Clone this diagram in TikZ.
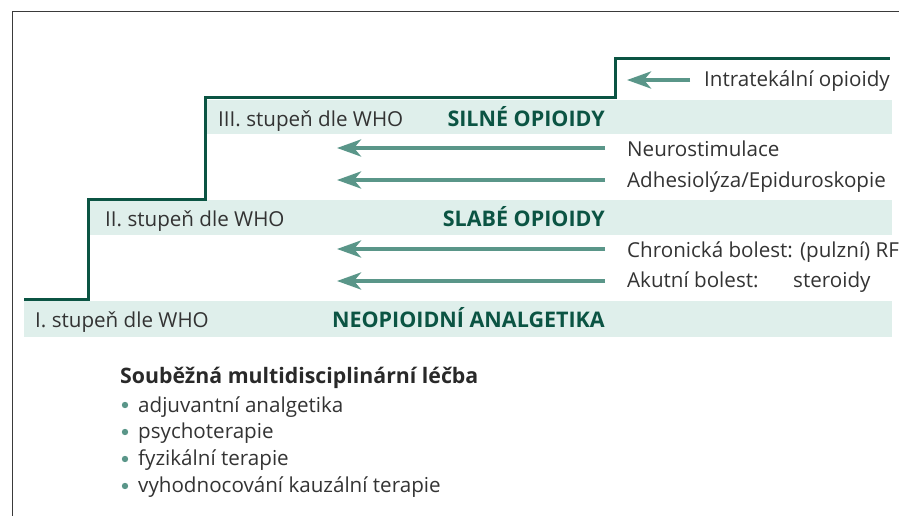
\documentclass[tikz,border=0pt]{standalone}
\usepackage{fontspec}
\setmainfont{Open Sans}
\usetikzlibrary{arrows.meta}
\definecolor{band}{HTML}{DFEFEB}
\definecolor{stair}{HTML}{0B5443}
\definecolor{arr}{HTML}{5A9689}
\definecolor{txt}{HTML}{333333}
\definecolor{frame}{HTML}{3A3A3A}
\tikzset{
  lbl/.style={inner sep=0pt, anchor=base west, text=txt, font=\fontsize{20.6}{24}\selectfont},
  boldlbl/.style={inner sep=0pt, anchor=base east, text=stair, font=\fontsize{21.5}{24}\selectfont\bfseries},
  headlbl/.style={inner sep=0pt, anchor=base west, text=txt!80!black, font=\fontsize{21.3}{24}\selectfont\bfseries},
  arrowline/.style={draw=arr, line width=4pt, -{Stealth[length=24pt,width=17pt,inset=7pt]}},
  stairline/.style={draw=stair, line width=3pt},
  bandbox/.style={fill=band, draw=none},
  bulletdot/.style={fill=arr, draw=none}
}
\begin{document}
\begin{tikzpicture}[x=1pt,y=-1pt]
\useasboundingbox (0,0) rectangle (899,516);
% frame
\draw[frame, line width=1.2pt] (12.5,516) -- (12.5,11.5) -- (899,11.5);
% bands
\fill[bandbox] (205,100) rectangle (892,134);
\fill[bandbox] (88,200) rectangle (892,235);
\fill[bandbox] (24,301) rectangle (892,337);
% staircase
\draw[stairline] (24,299.5) -- (88,299.5) -- (88,199) -- (205,199) -- (205,98) -- (615,98) -- (615,58.5) -- (890,58.5);
% band labels
\node[lbl] (s3) at (218,127) {III. stupeň dle WHO};
\node[lbl] (s2) at (105,226) {II. stupeň dle WHO};
\node[lbl] (s1) at (35,327) {I. stupeň dle WHO};
\node[boldlbl] (b3) at (605,127) {SILNÉ OPIOIDY};
\node[boldlbl] (b2) at (605,226) {SLABÉ OPIOIDY};
\node[boldlbl] (b1) at (605,327) {NEOPIOIDNÍ ANALGETIKA};
% right texts
\node[lbl] (it) at (704,87) {Intratekální opioidy};
\node[lbl] (ns) at (627,157) {Neurostimulace};
\node[lbl] (ad) at (627,187) {Adhesiolýza/Epiduroskopie};
\node[lbl] (ch) at (627,257) {Chronická bolest: (pulzní) RF};
\node[lbl] (ak) at (627,287) {Akutní bolest:};
\node[lbl] (st) at (793,287) {steroidy};
% arrow ends
\coordinate (itS) at (690,80);  \coordinate (itE) at (627,80);
\coordinate (nsS) at (605,148); \coordinate (nsE) at (337,148);
\coordinate (adS) at (605,180); \coordinate (adE) at (337,180);
\coordinate (chS) at (605,249); \coordinate (chE) at (337,249);
\coordinate (akS) at (605,281); \coordinate (akE) at (337,281);
\draw[arrowline] (itS) -- (itE);
\draw[arrowline] (nsS) -- (nsE);
\draw[arrowline] (adS) -- (adE);
\draw[arrowline] (chS) -- (chE);
\draw[arrowline] (akS) -- (akE);
% bottom list
\node[headlbl] (hd) at (120,383) {Souběžná multidisciplinární léčba};
\node[lbl] (l1) at (138,412) {adjuvantní analgetika};
\node[lbl] (l2) at (138,438) {psychoterapie};
\node[lbl] (l3) at (138,465) {fyzikální terapie};
\node[lbl] (l4) at (138,492) {vyhodnocování kauzální terapie};
\fill[bulletdot] (125,405) circle (3.2);
\fill[bulletdot] (125,432) circle (3.2);
\fill[bulletdot] (125,459) circle (3.2);
\fill[bulletdot] (125,486) circle (3.2);
\end{tikzpicture}
\end{document}
